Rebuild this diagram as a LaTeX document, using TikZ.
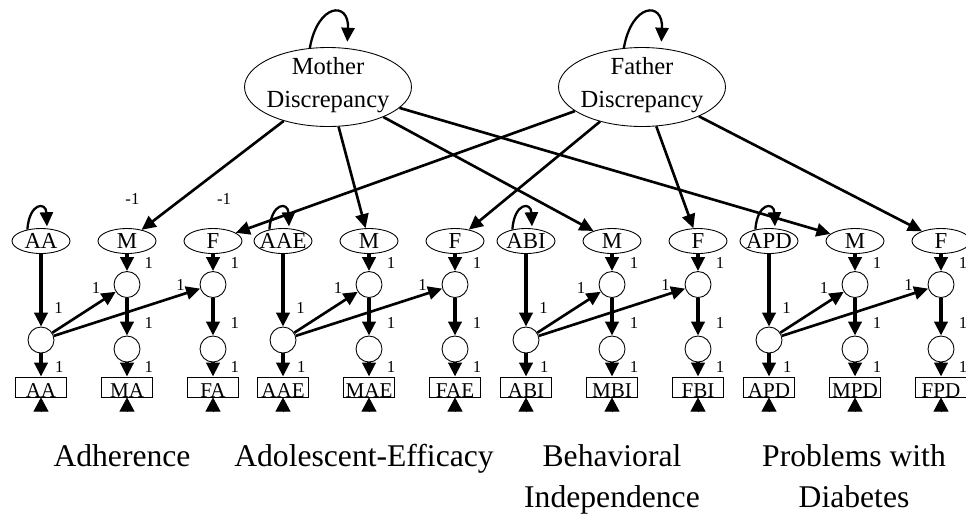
\documentclass[tikz,border=0pt]{standalone}
\usepackage{fontspec}
\setmainfont{Liberation Serif}
\usetikzlibrary{arrows.meta,shapes.geometric}
\newcommand{\nlbl}[2][-4pt]{\smash{\makebox[0pt]{\raisebox{#1}{#2}}}}

\begin{document}
\begin{tikzpicture}[x=0.02cm, y=-0.02cm,
        >={Triangle[length=8pt,width=7.5pt]},
        disc/.style={ellipse, draw, line width=0.5pt, minimum width=3.34cm, minimum height=1.58cm, inner sep=0pt, font=\fontsize{14}{18.7}\selectfont},
        lat/.style={ellipse, draw, line width=0.5pt, minimum width=1.16cm, minimum height=0.5cm, inner sep=0pt, font=\fontsize{13}{15}\selectfont},
        res/.style={circle, draw, line width=0.5pt, minimum size=0.52cm, inner sep=0pt},
        obs/.style={rectangle, draw, line width=0.5pt, minimum width=1.02cm, minimum height=0.4cm, inner sep=0pt, font=\fontsize{12}{14}\selectfont},
        reg/.style={->, line width=1.5pt},
        load/.style={->, line width=2.2pt},
        err/.style={-{Triangle[length=8pt,width=8.5pt]}, line width=0.4pt},
        loopy/.style={->, line width=1.3pt},
        one/.style={font=\fontsize{9.5}{11}\selectfont, inner sep=0pt},
        dl/.style={one, pos=1, xshift=-11.2pt, yshift=2pt},
        grp/.style={font=\fontsize{18}{23.3}\selectfont, align=center, anchor=north, inner sep=0pt}]
    \useasboundingbox (0,0) rectangle (966,515);
    \node[disc] (md) at (328,87) {\nlbl[-2.3pt]{\begin{tabular}{@{}c@{}}Mother\\Discrepancy\end{tabular}}};
    \node[disc] (fd) at (642,87) {\nlbl[-2.3pt]{\begin{tabular}{@{}c@{}}Father\\Discrepancy\end{tabular}}};
    \draw[loopy] (md.115) .. controls +(8,-45) and +(2,-41) .. ([xshift=11pt,yshift=3pt]md.north);
    \draw[loopy] (fd.115) .. controls +(8,-45) and +(2,-41) .. ([xshift=11pt,yshift=3pt]fd.north);

    \node[lat] (ad-a) at (41,241) {\nlbl{AA}};
    \node[lat, label={[one, xshift=3.1pt, yshift=13pt]above:-1}] (ad-m) at (127,241) {\nlbl{M}};
    \node[lat, label={[one, xshift=6.3pt, yshift=13pt]above:-1}] (ad-f) at (213,241) {\nlbl{F}};
    \node[res] (ad-c) at (41,340) {};
    \node[res] (ad-mu) at (127,284.5) {};
    \node[res] (ad-ml) at (127,349) {};
    \node[res] (ad-fu) at (213,284.5) {};
    \node[res] (ad-fl) at (213,349) {};
    \node[obs] (ad-ba) at (41,387) {\nlbl[-5.7pt]{AA}};
    \node[obs] (ad-bm) at (127,387) {\nlbl[-5.7pt]{MA}};
    \node[obs] (ad-bf) at (213,387) {\nlbl[-5.7pt]{FA}};
    \coordinate (ad-ea) at (41,412);
    \coordinate (ad-em) at (127,412);
    \coordinate (ad-ef) at (213,412);
    \draw[loopy] (ad-a.140) .. controls +(2,-27) and +(-1,-25) .. ([xshift=3.4pt,yshift=1pt]ad-a.north);
    \draw[load] (ad-a) -- node[one, pos=.74, right=6.5pt] {1} (ad-c);
    \draw[load] (ad-c) -- node[one, pos=.58, right=7pt] {1} (ad-ba);
    \draw[reg] (ad-c) -- node[dl] {1} (ad-mu);
    \draw[reg] (ad-c) -- node[dl] {1} (ad-fu);
    \draw[load] (ad-m) -- node[one, right=9pt] {1} (ad-mu);
    \draw[load] (ad-mu) -- node[one, pos=.67, right=9pt] {1} (ad-ml);
    \draw[load] (ad-ml) -- node[one, pos=.33, right=9pt] {1} (ad-bm);
    \draw[load] (ad-f) -- node[one, right=9pt] {1} (ad-fu);
    \draw[load] (ad-fu) -- node[one, pos=.67, right=9pt] {1} (ad-fl);
    \draw[load] (ad-fl) -- node[one, pos=.33, right=9pt] {1} (ad-bf);
    \draw[err] (ad-ea) -- (ad-ba);
    \draw[err] (ad-em) -- (ad-bm);
    \draw[err] (ad-ef) -- (ad-bf);

    \node[lat] (ae-a) at (283,241) {\nlbl{AAE}};
    \node[lat] (ae-m) at (369,241) {\nlbl{M}};
    \node[lat] (ae-f) at (455,241) {\nlbl{F}};
    \node[res] (ae-c) at (283,340) {};
    \node[res] (ae-mu) at (369,284.5) {};
    \node[res] (ae-ml) at (369,349) {};
    \node[res] (ae-fu) at (455,284.5) {};
    \node[res] (ae-fl) at (455,349) {};
    \node[obs] (ae-ba) at (283,387) {\nlbl[-5.7pt]{AAE}};
    \node[obs] (ae-bm) at (369,387) {\nlbl[-5.7pt]{MAE}};
    \node[obs] (ae-bf) at (455,387) {\nlbl[-5.7pt]{FAE}};
    \coordinate (ae-ea) at (283,412);
    \coordinate (ae-em) at (369,412);
    \coordinate (ae-ef) at (455,412);
    \draw[loopy] (ae-a.140) .. controls +(2,-27) and +(-1,-25) .. ([xshift=3.4pt,yshift=1pt]ae-a.north);
    \draw[load] (ae-a) -- node[one, pos=.74, right=6.5pt] {1} (ae-c);
    \draw[load] (ae-c) -- node[one, pos=.58, right=7pt] {1} (ae-ba);
    \draw[reg] (ae-c) -- node[dl] {1} (ae-mu);
    \draw[reg] (ae-c) -- node[dl] {1} (ae-fu);
    \draw[load] (ae-m) -- node[one, right=9pt] {1} (ae-mu);
    \draw[load] (ae-mu) -- node[one, pos=.67, right=9pt] {1} (ae-ml);
    \draw[load] (ae-ml) -- node[one, pos=.33, right=9pt] {1} (ae-bm);
    \draw[load] (ae-f) -- node[one, right=9pt] {1} (ae-fu);
    \draw[load] (ae-fu) -- node[one, pos=.67, right=9pt] {1} (ae-fl);
    \draw[load] (ae-fl) -- node[one, pos=.33, right=9pt] {1} (ae-bf);
    \draw[err] (ae-ea) -- (ae-ba);
    \draw[err] (ae-em) -- (ae-bm);
    \draw[err] (ae-ef) -- (ae-bf);

    \node[lat] (bi-a) at (526,241) {\nlbl{ABI}};
    \node[lat] (bi-m) at (612,241) {\nlbl{M}};
    \node[lat] (bi-f) at (698,241) {\nlbl{F}};
    \node[res] (bi-c) at (526,340) {};
    \node[res] (bi-mu) at (612,284.5) {};
    \node[res] (bi-ml) at (612,349) {};
    \node[res] (bi-fu) at (698,284.5) {};
    \node[res] (bi-fl) at (698,349) {};
    \node[obs] (bi-ba) at (526,387) {\nlbl[-5.7pt]{ABI}};
    \node[obs] (bi-bm) at (612,387) {\nlbl[-5.7pt]{MBI}};
    \node[obs] (bi-bf) at (698,387) {\nlbl[-5.7pt]{FBI}};
    \coordinate (bi-ea) at (526,412);
    \coordinate (bi-em) at (612,412);
    \coordinate (bi-ef) at (698,412);
    \draw[loopy] (bi-a.140) .. controls +(2,-27) and +(-1,-25) .. ([xshift=3.4pt,yshift=1pt]bi-a.north);
    \draw[load] (bi-a) -- node[one, pos=.74, right=6.5pt] {1} (bi-c);
    \draw[load] (bi-c) -- node[one, pos=.58, right=7pt] {1} (bi-ba);
    \draw[reg] (bi-c) -- node[dl] {1} (bi-mu);
    \draw[reg] (bi-c) -- node[dl] {1} (bi-fu);
    \draw[load] (bi-m) -- node[one, right=9pt] {1} (bi-mu);
    \draw[load] (bi-mu) -- node[one, pos=.67, right=9pt] {1} (bi-ml);
    \draw[load] (bi-ml) -- node[one, pos=.33, right=9pt] {1} (bi-bm);
    \draw[load] (bi-f) -- node[one, right=9pt] {1} (bi-fu);
    \draw[load] (bi-fu) -- node[one, pos=.67, right=9pt] {1} (bi-fl);
    \draw[load] (bi-fl) -- node[one, pos=.33, right=9pt] {1} (bi-bf);
    \draw[err] (bi-ea) -- (bi-ba);
    \draw[err] (bi-em) -- (bi-bm);
    \draw[err] (bi-ef) -- (bi-bf);

    \node[lat] (pd-a) at (769,241) {\nlbl{APD}};
    \node[lat] (pd-m) at (855,241) {\nlbl{M}};
    \node[lat] (pd-f) at (941,241) {\nlbl{F}};
    \node[res] (pd-c) at (769,340) {};
    \node[res] (pd-mu) at (855,284.5) {};
    \node[res] (pd-ml) at (855,349) {};
    \node[res] (pd-fu) at (941,284.5) {};
    \node[res] (pd-fl) at (941,349) {};
    \node[obs] (pd-ba) at (769,387) {\nlbl[-5.7pt]{APD}};
    \node[obs] (pd-bm) at (855,387) {\nlbl[-5.7pt]{MPD}};
    \node[obs] (pd-bf) at (941,387) {\nlbl[-5.7pt]{FPD}};
    \coordinate (pd-ea) at (769,412);
    \coordinate (pd-em) at (855,412);
    \coordinate (pd-ef) at (941,412);
    \draw[loopy] (pd-a.140) .. controls +(2,-27) and +(-1,-25) .. ([xshift=3.4pt,yshift=1pt]pd-a.north);
    \draw[load] (pd-a) -- node[one, pos=.74, right=6.5pt] {1} (pd-c);
    \draw[load] (pd-c) -- node[one, pos=.58, right=7pt] {1} (pd-ba);
    \draw[reg] (pd-c) -- node[dl] {1} (pd-mu);
    \draw[reg] (pd-c) -- node[dl] {1} (pd-fu);
    \draw[load] (pd-m) -- node[one, right=9pt] {1} (pd-mu);
    \draw[load] (pd-mu) -- node[one, pos=.67, right=9pt] {1} (pd-ml);
    \draw[load] (pd-ml) -- node[one, pos=.33, right=9pt] {1} (pd-bm);
    \draw[load] (pd-f) -- node[one, right=9pt] {1} (pd-fu);
    \draw[load] (pd-fu) -- node[one, pos=.67, right=9pt] {1} (pd-fl);
    \draw[load] (pd-fl) -- node[one, pos=.33, right=9pt] {1} (pd-bf);
    \draw[err] (pd-ea) -- (pd-ba);
    \draw[err] (pd-em) -- (pd-bm);
    \draw[err] (pd-ef) -- (pd-bf);

    \draw[reg] (md) -- (ad-m);
    \draw[reg] (md) -- (ae-m);
    \draw[reg] (md) -- (bi-m);
    \draw[reg] (md) -- (pd-m);
    \draw[reg] (fd) -- (ad-f);
    \draw[reg] (fd) -- (ae-f);
    \draw[reg] (fd) -- (bi-f);
    \draw[reg] (fd) -- (pd-f);

    \node[grp] (ad-t) at (122,444) {Adherence};
    \node[grp] (ae-t) at (364,444) {Adolescent-Efficacy};
    \node[grp] (bi-t) at (612,444) {Behavioral\\Independence};
    \node[grp] (pd-t) at (854,444) {Problems with\\Diabetes};
\end{tikzpicture}
\end{document}
